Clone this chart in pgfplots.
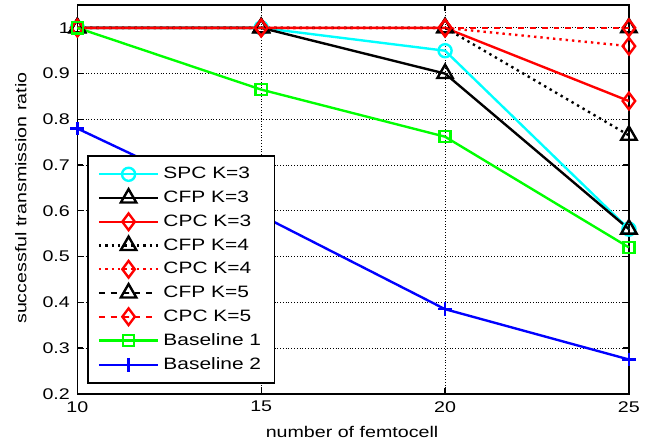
\documentclass[border=0pt]{standalone}
\usepackage{fontspec}
\setmainfont[FakeStretch=1.27]{Liberation Sans}
\usepackage{pgfplots}
\pgfplotsset{compat=1.18}
\definecolor{mcyan}{rgb}{0,1,1}
\definecolor{mgreen}{rgb}{0,1,0}
\definecolor{mblue}{rgb}{0,0,1}
\definecolor{mred}{rgb}{1,0,0}
\begin{document}
\fontsize{7.8}{9.5}\selectfont
\begin{tikzpicture}
\begin{axis}[
    scale only axis,
    width=278pt, height=196pt,
    xmin=10, xmax=25, ymin=0.2, ymax=1.05,
    clip=false,
    xtick={10,15,20,25},
    ytick={0.2,0.3,...,1.0},
    yticklabels={0.2,0.3,0.4,0.5,0.6,0.7,0.8,0.9,1},
    tick align=inside, tick pos=both,
    major tick length=3pt,
    tick style={black, line width=0.6pt},
    /pgf/number format/assume math mode=true,
    ticklabel style={font=\fontsize{7.8}{9.5}\selectfont},
    xticklabel style={yshift=-1pt},
    yticklabel style={xshift=-1pt},
    grid=major,
    major grid style={black, densely dotted, line width=0.5pt},
    axis line style={black, line width=0.8pt},
    xlabel={number of femtocell},
    ylabel={successful transmission ratio},
    xlabel style={at={(axis description cs:0.498,-0.097)}, anchor=center},
    ylabel style={at={(axis description cs:-0.1025,0.503)}, anchor=center},
    label style={font=\fontsize{7.8}{9.5}\selectfont},
    every axis plot/.append style={line width=1.2pt},
    legend style={at={(0.018,0.0255)}, anchor=south west, draw=black, line width=0.8pt,
        font=\fontsize{8.3}{10}\selectfont, row sep=1.8pt, inner xsep=4.8pt, inner ysep=4pt,
        nodes={inner ysep=1.6pt}},
    legend cell align=left,
    legend image code/.code={%
        \draw[mark repeat=2,mark phase=2] plot coordinates {(0pt,0pt)(15pt,0pt)(30pt,0pt)};},
]
\addplot[mcyan, mark=o, mark options={solid}, mark size=3.3pt] coordinates {(10,1) (15,1) (20,0.95) (25,0.56)};
\addplot[black, mark=triangle, mark options={solid}, mark size=4.5pt] coordinates {(10,1) (15,1) (20,0.90) (25,0.56)};
\addplot[mred, mark=diamond, mark options={solid}, mark size=4.2pt] coordinates {(10,1) (15,1) (20,1) (25,0.84)};
\addplot[black, dotted, mark=triangle, mark options={solid}, mark size=4.5pt] coordinates {(10,1) (15,1) (20,1) (25,0.765)};
\addplot[mred, dotted, mark=diamond, mark options={solid}, mark size=4.2pt] coordinates {(10,1) (15,1) (20,1) (25,0.96)};
\addplot[black, dashed, mark=triangle, mark options={solid}, mark size=4.5pt] coordinates {(10,1) (15,1) (20,1) (25,1)};
\addplot[mred, dashed, mark=diamond, mark options={solid}, mark size=4.2pt] coordinates {(10,1) (15,1) (20,1) (25,1)};
\addplot[mgreen, mark=square, mark options={solid}, mark size=2.8pt] coordinates {(10,1) (15,0.865) (20,0.762) (25,0.52)};
\addplot[mblue, mark=+, mark options={solid}, mark size=3.5pt] coordinates {(10,0.78) (15,0.59) (20,0.385) (25,0.275)};
\legend{SPC K=3, CFP K=3, CPC K=3, CFP K=4, CPC K=4, CFP K=5, CPC K=5, Baseline 1, Baseline 2}
\path (rel axis cs:-0.1403,-0.130) rectangle (rel axis cs:1.0198,1.0128);
\end{axis}
\end{tikzpicture}
\end{document}
